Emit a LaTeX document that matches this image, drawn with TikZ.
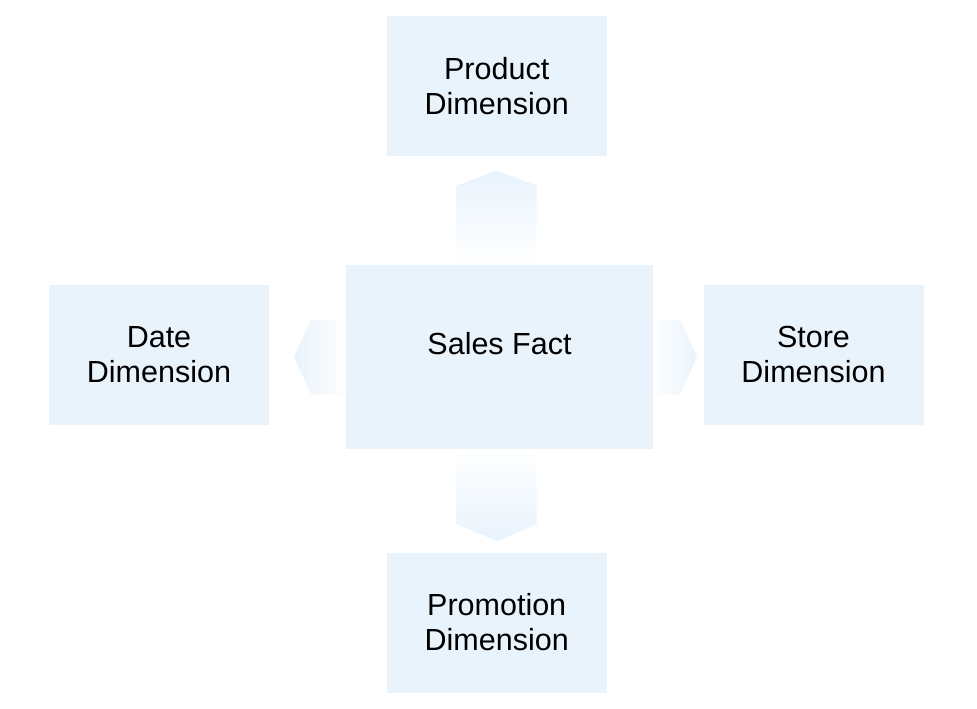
\documentclass[tikz,border=0pt]{standalone}
\usepackage{fontspec}
\setmainfont{Liberation Sans}
\usetikzlibrary{calc}
\definecolor{boxblue}{RGB}{233,243,252}
\tikzset{
  dimbox/.style={rectangle, fill=boxblue, draw=none, inner sep=0pt,
    minimum width=220pt, minimum height=140pt, align=center,
    font=\fontsize{30.5}{35}\selectfont},
  factbox/.style={rectangle, fill=boxblue, draw=none, inner sep=0pt,
    minimum width=307pt, minimum height=184pt},
  lbl/.style={inner sep=0pt, font=\fontsize{30.5}{35}\selectfont}
}
\begin{document}
\begin{tikzpicture}[x=1pt,y=-1pt]
\useasboundingbox (0,0) rectangle (977,709);
\node[dimbox] (product) at (496.7,86) {Product\\Dimension};
\node[dimbox] (date) at (159,354.5) {Date\\Dimension};
\node[dimbox] (store) at (813.5,354.5) {Store\\Dimension};
\node[dimbox] (promo) at (496.7,622.5) {Promotion\\Dimension};
% arrows (drawn before the fact box)
\coordinate (fw) at (346,357);
\coordinate (fe) at (653,357);
\shade[top color=boxblue, bottom color=white]
  ($(product.south)+(-40,29.3)$) -- ($(product.south)+(0,14.3)$) -- ($(product.south)+(40,29.3)$)
  -- ($(product.south)+(40,109.3)$) -- ($(product.south)+(-40,109.3)$) -- cycle;
\shade[top color=white, bottom color=boxblue]
  ($(promo.north)+(-40,-28)$) -- ($(promo.north)+(0,-11.3)$) -- ($(promo.north)+(40,-28)$)
  -- ($(promo.north)+(40,-104)$) -- ($(promo.north)+(-40,-104)$) -- cycle;
\shade[left color=boxblue, right color=white]
  ($(fw)+(-52,0)$) -- ($(fw)+(-35,-37.5)$) -- ($(fw)+(2,-37.5)$)
  -- ($(fw)+(2,37.5)$) -- ($(fw)+(-35,37.5)$) -- cycle;
\shade[left color=white, right color=boxblue]
  ($(fe)+(44,0)$) -- ($(fe)+(27,-37.5)$) -- ($(fe)+(-2,-37.5)$)
  -- ($(fe)+(-2,37.5)$) -- ($(fe)+(27,37.5)$) -- cycle;
\node[factbox] (fact) at (499.5,357) {};
\node[lbl] (factlabel) at (499.5,344) {Sales Fact};
\end{tikzpicture}
\end{document}
